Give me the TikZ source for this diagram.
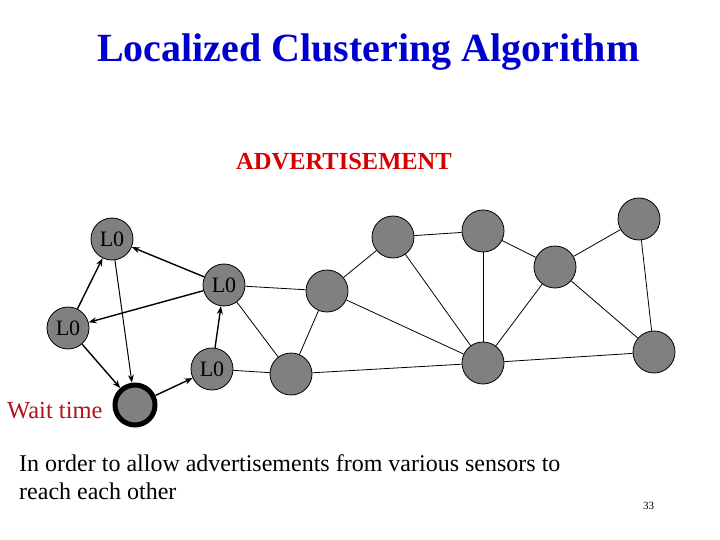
\documentclass[tikz,border=0pt]{standalone}
\usepackage{fontspec}
\setmainfont{Liberation Serif}
\usetikzlibrary{arrows.meta}
\definecolor{titleblue}{RGB}{0,0,204}
\definecolor{advred}{RGB}{214,0,0}
\definecolor{waitred}{RGB}{176,16,24}
\definecolor{nodegray}{RGB}{128,128,128}
\tikzset{
  sensor/.style={circle, draw=black, fill=nodegray, line width=0.8pt, minimum size=42pt, inner sep=0pt, font=\fontsize{22}{22}\selectfont},
  waitnode/.style={circle, draw=black, fill=nodegray, line width=5pt, minimum size=40pt, inner sep=0pt},
  link/.style={draw=black, line width=0.8pt},
  adv/.style={draw=black, line width=1.4pt, -{Stealth[length=8pt,width=6pt]}},
  advthin/.style={draw=black, line width=1pt, -{Stealth[length=8pt,width=6pt]}}
}
\begin{document}
\begin{tikzpicture}[x=1pt,y=-1pt]
\useasboundingbox (0,0) rectangle (720,540);
\node[anchor=base west, inner sep=0pt, text=titleblue, font=\fontsize{40}{40}\selectfont\bfseries] (title) at (97,62) {Localized Clustering Algorithm};
\node[anchor=base west, inner sep=0pt, text=advred, font=\fontsize{24.5}{24.5}\selectfont\bfseries] (advt) at (236,170) {ADVERTISEMENT};
% nodes
\node[sensor] (a) at (112,239) {L0};
\node[sensor] (b) at (224,285) {L0};
\node[sensor] (c) at (68,328) {L0};
\node[sensor] (d) at (212,369) {L0};
\node[waitnode] (w) at (135,405) {};
\node[sensor] (e) at (327,291) {};
\node[sensor] (f) at (291,374) {};
\node[sensor] (g) at (393,237) {};
\node[sensor] (h) at (483,231) {};
\node[sensor] (i) at (639,219) {};
\node[sensor] (j) at (555,267) {};
\node[sensor] (k) at (483,363) {};
\node[sensor] (l) at (654,352) {};
% plain links
\draw[link] (b) -- (e);
\draw[link] (b) -- (f);
\draw[link] (d) -- (f);
\draw[link] (e) -- (f);
\draw[link] (e) -- (g);
\draw[link] (e) -- (k);
\draw[link] (g) -- (h);
\draw[link] (g) -- (k);
\draw[link] (h) -- (k);
\draw[link] (h) -- (j);
\draw[link] (j) -- (k);
\draw[link] (j) -- (i);
\draw[link] (j) -- (l);
\draw[link] (i) -- (l);
\draw[link] (f) -- (k);
\draw[link] (k) -- (l);
% advertisement arrows
\draw[adv] (b) -- (a);
\draw[adv] (b) -- (c);
\draw[adv] (c) -- (a);
\draw[adv] (c) -- (w);
\draw[advthin] (a) -- (w);
\draw[adv] (w) -- (d);
\draw[adv] (d) -- (b);
% texts
\node[anchor=base west, inner sep=0pt, text=waitred, font=\fontsize{24.5}{24.5}\selectfont] (wt) at (7,418) {Wait time};
\node[anchor=base west, inner sep=0pt, font=\fontsize{24}{24}\selectfont] (l1) at (19,471) {In order to allow advertisements from various sensors to};
\node[anchor=base west, inner sep=0pt, font=\fontsize{24}{24}\selectfont] (l2) at (19,499) {reach each other};
\node[anchor=base west, inner sep=0pt, font=\fontsize{11}{11}\selectfont] (pg) at (643,509) {33};
\end{tikzpicture}
\end{document}
